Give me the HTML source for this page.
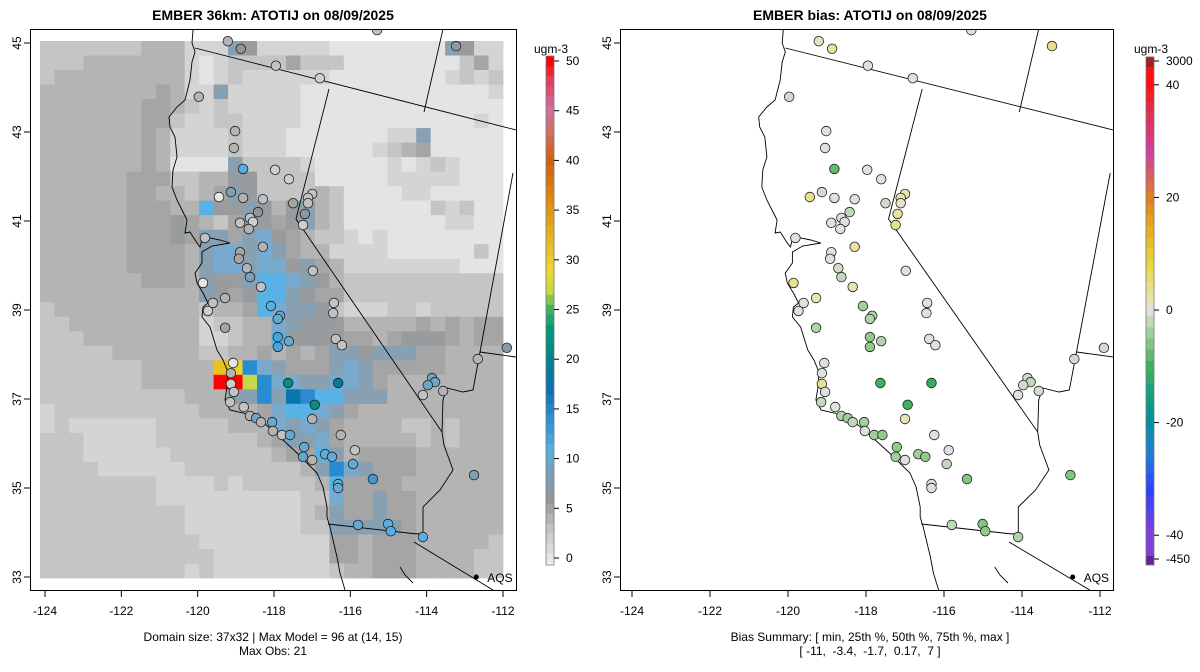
<!DOCTYPE html>
<html><head><meta charset="utf-8"><style>
html,body{margin:0;padding:0;background:#fff}
svg{display:block;font-family:"Liberation Sans",Arial,sans-serif}
</style></head><body>
<svg id="root" width="1200" height="672" viewBox="0 0 1200 672" xmlns="http://www.w3.org/2000/svg">
<defs>
<clipPath id="clipL"><rect x="30" y="29" width="486" height="561"/></clipPath>
<clipPath id="clipR"><rect x="620" y="29" width="493" height="561"/></clipPath>
</defs>
<g id="gL"></g>
<g id="gR"></g>
</svg>
<script>
// ---------- DATA ----------
const gridRows = [
"22222223331116511111000000006511",
"22233333331012222422200000000241",
"23333333331012111111000000001212",
"33333333431161111100000000000001",
"33333334432121111100000000000000",
"33333334421122111100000000000010",
"33333334311112111000000011600000",
"33333334311112111000000123400000",
"33333334300006222210000010121000",
"33333344422335522220000011111000",
"33333344332346522223200001100000",
"33333344433855653563200000021200",
"33333344454324654563200000001100",
"33333344454664675432210100000000",
"33333344443677676433111100000020",
"33333344443677677564311111111000",
"33333334443655688765322222222222",
"33333333333654588654422222222222",
"23333333333233487665211122122222",
"22333333333122337655533333434344",
"22233333333112338555544345554344",
"22222333333223343434665666443333",
"222222233333Yy976444676444443333",
"222222233333RRL977667764333333333",
"22222222223336696K98866633333333",
"12222222222333347887643333333333",
"12111111222223337676433332232333",
"22211111222222234667433333232333",
"22211111122222223448634444333333",
"22221111112222222236976444333333",
"22222222111121222223844443333333",
"22222222111111111122744644333333",
"22222222221111111123644644333333",
"22222222221111111122666664333333",
"22222222222111111111443444333332",
"22222222222211111111443444333322",
"22222222221211111111233444333322"
];
const gridLevels = {"0":"#e4e4e4","1":"#d4d4d4","2":"#c5c5c5","3":"#b4b4b4","4":"#a5a5a5","5":"#989c9f","6":"#87a0b2","7":"#78aad0","8":"#58b2e6","9":"#2a8cd0","K":"#0a76ae","R":"#ff0000","Y":"#e8c020","y":"#e8d430","L":"#c8d848"};

const stLon = [-119.21,-118.87,-117.95,-116.80,-115.30,-113.23,-119.97,-119.02,-119.05,-118.81,-117.97,-117.61,-119.44,-119.13,-118.81,-118.29,-117.50,-117.00,-117.11,-117.11,-117.19,-117.24,-118.42,-118.89,-118.63,-118.55,-118.66,-118.29,-118.89,-118.92,-118.71,-118.63,-116.98,-118.34,-119.81,-119.86,-119.28,-119.60,-118.08,-116.43,-119.73,-116.45,-117.84,-117.90,-119.28,-117.90,-117.61,-117.90,-116.38,-116.22,-111.90,-112.66,-113.86,-113.78,-113.97,-114.10,-113.57,-119.07,-119.13,-119.13,-119.05,-117.63,-116.32,-116.93,-119.15,-118.79,-118.63,-118.47,-118.34,-118.05,-118.03,-117.79,-117.58,-117.00,-116.25,-117.21,-117.24,-117.00,-116.66,-116.48,-115.88,-115.93,-115.41,-116.32,-116.32,-112.76,-115.80,-115.01,-114.94,-114.10];
const stLat = [45.04,44.87,44.49,44.21,45.29,44.93,43.79,43.02,42.64,42.17,42.15,41.94,41.54,41.65,41.52,41.49,41.40,41.61,41.52,41.40,41.16,40.91,41.20,40.96,41.07,40.98,40.82,40.42,40.30,40.15,39.94,39.74,39.88,39.52,40.62,39.61,39.27,39.16,39.09,39.16,38.98,38.93,38.87,38.80,38.60,38.39,38.30,38.17,38.35,38.21,38.15,37.90,37.47,37.38,37.31,37.09,37.18,37.81,37.58,37.34,37.16,37.36,37.36,36.87,36.93,36.82,36.62,36.57,36.48,36.48,36.28,36.19,36.19,36.55,36.19,35.92,35.70,35.63,35.76,35.70,35.85,35.54,35.20,35.09,35.00,35.29,34.17,34.19,34.03,33.90];
const stObs = [4,6,3,2,3,7,4,4,4,11,2,2,0,8,4,3,5,3,3,3,7,2,6,3,3,2,4,4,5,5,4,9,3,3,3,0,4,3,11,3,2,3,10,10,5,12,10,12,3,3,7,4,9,9,9,3,4,0,4,2,3,22,19,22,3,3,4,9,4,10,4,3,10,4,4,10,10,4,10,10,3,10,13,10,10,8,10,11,11,11];
const stBias = [1,3,0,0.5,0,4,-1,0,0,-8,0,0,4,-1,0,0,-1,2,2,1,3,4,-2,0,0,0,0,3,0,0,-1,-2,0,2,0,4,2,0,-4,0,0,0,-3,-3,-3,-5,-3,-5,0,0,-1,-1,-1,-2,-1,0,-1,0,0,4,0,-10,-11,-10,-2,0,-3,-4,-2,-4,0,-4,-5,2,0,-5,-4,0,-4,-5,0,-2,-6,0,0,-6,-2,-6,-5,-3];

const lonTicks = [-124,-122,-120,-118,-116,-114,-112];
const latTicks = [45,43,41,39,37,35,33];
const obsCbTicks = [0,5,10,15,20,25,30,35,40,45,50];
const biasCbTicks = [3000,40,20,0,-20,-40,-450];

const obsStops = [[0,'#e6e6e6'],[3,'#c2c2c2'],[6,'#959595'],[8,'#7f9fb2'],[11,'#56aee2'],[14,'#2e90d0'],[17,'#0a70b0'],[20,'#00808e'],[23,'#00987a'],[25,'#40b060'],[27,'#c8d840'],[29,'#ecd830'],[32,'#e8b820'],[36,'#e08a10'],[40,'#d06010'],[43,'#d07060'],[45,'#d070a0'],[48,'#e04060'],[50,'#ff0000']];
const biasStops = [[-450,'#6a2090'],[-40,'#8040d8'],[-32,'#3040ff'],[-25,'#2080d8'],[-20,'#0090a0'],[-15,'#10a080'],[-10,'#40b060'],[-5,'#90cc88'],[-1,'#d0dccc'],[0,'#e0e0e0'],[2,'#e8e4b0'],[8,'#e8d840'],[14,'#e8b020'],[20,'#e08020'],[28,'#d040a0'],[35,'#e03050'],[40,'#ff1010'],[3000,'#a02020']];

// ---------- helpers ----------
const NS="http://www.w3.org/2000/svg";
function mk(tag,attrs,parent){const e=document.createElementNS(NS,tag);for(const k in attrs)e.setAttribute(k,attrs[k]);parent.appendChild(e);return e;}
function hex2rgb(h){return [parseInt(h.substr(1,2),16),parseInt(h.substr(3,2),16),parseInt(h.substr(5,2),16)];}
function interp(stops,v){
  if(v<=stops[0][0])return stops[0][1];
  for(let i=1;i<stops.length;i++){if(v<=stops[i][0]){const a=stops[i-1],b=stops[i];const t=(v-a[0])/(b[0]-a[0]);const c1=hex2rgb(a[1]),c2=hex2rgb(b[1]);return 'rgb('+c1.map((c,j)=>Math.round(c+(c2[j]-c)*t)).join(',')+')';}}
  return stops[stops.length-1][1];
}
const panels = [
  {g:'gL',clip:'clipL',box:[30,29,516,590],x0:45,x1:503,cbx:546,title:'EMBER 36km: ATOTIJ on 08/09/2025',cx:273},
  {g:'gR',clip:'clipR',box:[620,29,1113,590],x0:632,x1:1100,cbx:1146,title:'EMBER bias: ATOTIJ on 08/09/2025',cx:870}
];
function xOf(p,lon){return p.x0+(lon+124)*(p.x1-p.x0)/12;}
function yOf(lat){return 43+(45-lat)*44.5;}
const coast=[[193,30],[192,43],[195,52],[192,62],[190,80],[185,100],[177,107],[169,117],[170,127],[175,137],[177,157],[173,170],[172,187],[177,200],[183,212],[187,220],[185,233],[190,232],[197,243],[200,247],[203,235],[210,238],[220,240],[230,243],[212,246],[202,252],[202,263],[195,273],[197,283],[203,293],[208,303],[203,307],[202,317],[210,327],[217,350],[223,360],[228,372],[227,387],[225,400],[230,410],[243,413],[257,418],[270,428],[283,440],[297,453],[307,463],[317,473],[323,487],[327,507],[327,517],[330,527],[333,540],[337,557],[340,573],[345,590]];
const borders=[
 [[195,48],[516,130]],
 [[443,29],[424,112]],
 [[329,89],[296,219],[442,432],[444,445],[453,470],[440,490],[423,507],[423,533],[417,534]],
 [[513,173],[480,352],[473,390],[463,392],[447,388],[443,400],[442,432]],
 [[480,352],[516,357]],
 [[328,524],[417,534]],
 [[414,542],[493,590]],
 [[400,567],[405,575],[413,583]]
];
function mapX(p,x){return p.x0+(x-45)*(p.x1-p.x0)/458;}

panels.forEach((p,pi)=>{
  const g=document.getElementById(p.g);
  const [bx0,by0,bx1,by1]=p.box;
  const t=mk('text',{x:p.cx,y:20,'text-anchor':'middle','font-size':'14','font-weight':'bold',fill:'#000'},g);
  t.textContent=p.title;
  
  
  const inner=mk('g',{'clip-path':'url(#'+p.clip+')'},g);
  
  
  if(pi===0){
    const cw=(503-40)/32, ch=(578-41)/37;
    const hg=mk('g',{},inner);
    
    
    gridRows.forEach((row,r)=>{
      for(let c=0;c<row.length&&c<32;c++){
        const cell=mk('rect',{x:(40+c*cw).toFixed(2),y:(41+r*ch).toFixed(2),width:(cw+0.4).toFixed(2),height:(ch+0.4).toFixed(2),fill:gridLevels[row[c]]},hg);
        
        
      }
    });
  }
  const mp=coast.map(q=>mapX(p,q[0]).toFixed(1)+','+q[1]).join(' ');
  const cl=mk('polyline',{points:mp,fill:'none',stroke:'#000','stroke-width':'0.9'},inner);
  
  
  borders.forEach(b=>{
    const bl=mk('polyline',{points:b.map(q=>mapX(p,q[0]).toFixed(1)+','+q[1]).join(' '),fill:'none',stroke:'#000','stroke-width':'0.9'},inner);
    
    
  });
  for(let i=0;i<stLon.length;i++){
    const col = pi===0? interp(obsStops,stObs[i]) : interp(biasStops,stBias[i]);
    const c=mk('circle',{cx:xOf(p,stLon[i]).toFixed(1),cy:yOf(stLat[i]).toFixed(1),r:4.8,fill:col,stroke:'#222','stroke-width':'0.8'},inner);
    
    
  }
  const ax=xOf(p,-112.7);
  const ld=mk('circle',{cx:ax,cy:577,r:2.5,fill:'#000'},g);
  
  
  const lt=mk('text',{x:ax+11,y:582,'font-size':'12',fill:'#000'},g);
  lt.textContent='AQS';
  
  
  const fr=mk('rect',{x:bx0+0.5,y:by0+0.5,width:bx1-bx0,height:by1-by0,fill:'none',stroke:'#000','stroke-width':'1'},g);
  
  
  lonTicks.forEach(v=>{
    const x=xOf(p,v);
    const tk=mk('line',{x1:x,x2:x,y1:591,y2:597,stroke:'#000'},g);
    
    
    const tl=mk('text',{x:x,y:615,'text-anchor':'middle','font-size':'12',fill:'#000'},g);
    tl.textContent=v;
    
    
  });
  latTicks.forEach(v=>{
    const y=yOf(v);
    const tk=mk('line',{x1:bx0-6,x2:bx0,y1:y,y2:y,stroke:'#000'},g);
    
    
    const tl=mk('text',{x:bx0-9,y:y,'text-anchor':'middle','font-size':'12',fill:'#000',transform:'rotate(-90 '+(bx0-9)+' '+y+')'},g);
    tl.textContent=v;
    
    
  });
  const cb=mk('g',{},g);
  
  
  const cx=p.cbx;
  const ut=mk('text',{x:cx-12,y:53,'font-size':'12',fill:'#000'},g);
  ut.textContent='ugm-3';
  
  
  if(pi===0){
    const cy=v=>558-v*9.94;
    for(let v=0;v<=50;v++){
      const r=mk('rect',{x:cx,y:cy(v+0.5),width:8,height:10.2,fill:interp(obsStops,v)},cb);
      
      
    }
    mk('rect',{x:cx,y:cy(50.5),width:8,height:cy(-0.7)-cy(50.5),fill:'none',stroke:'#777','stroke-width':'0.8'},cb);
    obsCbTicks.forEach(v=>{
      mk('line',{x1:cx+8,x2:cx+13,y1:cy(v),y2:cy(v),stroke:'#000'},cb);
      const tl=mk('text',{x:cx+20,y:cy(v)+4,'font-size':'12',fill:'#000'},cb);
      tl.textContent=v;
      
      
    });
  } else {
    const cy=v=> v>=45? 61 : (v<=-45? 559 : 310-v*5.63);
    for(let v=-44;v<=44;v+=2){
      const r=mk('rect',{x:cx,y:310-(v+1)*5.63,width:8,height:11.6,fill:interp(biasStops,v)},cb);
      
      
    }
    const t1=mk('rect',{x:cx,y:57,width:8,height:10,fill:interp(biasStops,3000)},cb);
    
    
    const t2=mk('rect',{x:cx,y:556,width:8,height:9,fill:interp(biasStops,-450)},cb);
    
    
    mk('rect',{x:cx,y:57,width:8,height:508,fill:'none',stroke:'#777','stroke-width':'0.8'},cb);
    biasCbTicks.forEach(v=>{
      mk('line',{x1:cx+8,x2:cx+13,y1:cy(v),y2:cy(v),stroke:'#000'},cb);
      const tl=mk('text',{x:cx+20,y:cy(v)+4,'font-size':'12',fill:'#000'},cb);
      tl.textContent=v;
      
      
    });
  }
});
const foot=[[273,641,'Domain size: 37x32 | Max Model = 96 at (14, 15)','domain-summary'],[273,655,'Max Obs: 21','max-obs-summary'],[870,641,'Bias Summary: [ min, 25th %, 50th %, 75th %, max ]','bias-summary-header'],[870,655,'[ -11,  -3.4,  -1.7,  0.17,  7 ]','bias-summary-values']];
const root=document.getElementById('root');
foot.forEach(f=>{
  const t=mk('text',{x:f[0],y:f[1],'text-anchor':'middle','font-size':'12',fill:'#000'},root);
  t.style.whiteSpace='pre';
  t.textContent=f[2];
  
  
});
</script>
</body></html>
